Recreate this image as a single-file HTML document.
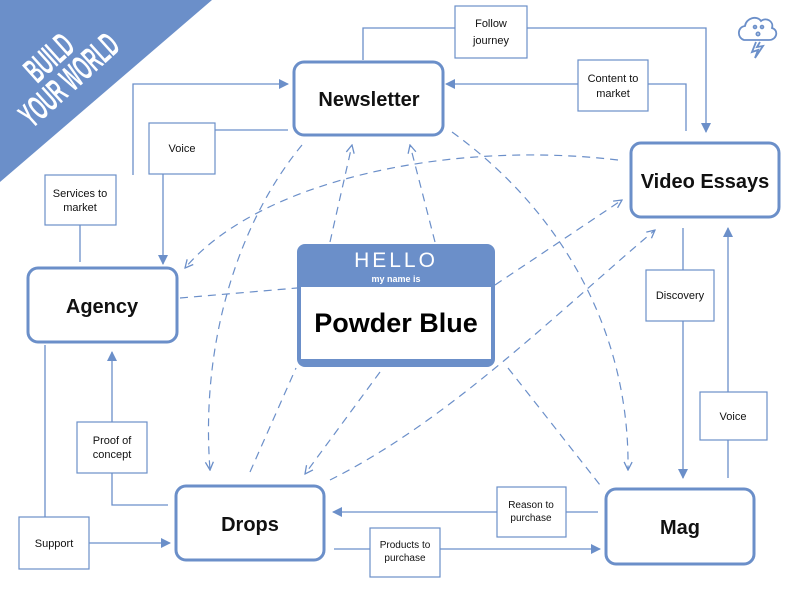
<!DOCTYPE html>
<html><head><meta charset="utf-8"><style>
html,body{margin:0;padding:0;background:#fff;width:792px;height:612px;overflow:hidden}
svg{display:block;font-family:"Liberation Sans",sans-serif}
</style></head><body>
<svg width="792" height="612" viewBox="0 0 792 612">
<defs>
<marker id="a" markerWidth="10" markerHeight="10" refX="9" refY="5" orient="auto" markerUnits="userSpaceOnUse"><path d="M0,0 L10,5 L0,10 z" fill="#6b8fc9"/></marker>
<marker id="o" markerWidth="10" markerHeight="10" refX="9" refY="5" orient="auto" markerUnits="userSpaceOnUse"><path d="M1,1 L9,5 L1,9" fill="none" stroke="#6b8fc9" stroke-width="1.3"/></marker>
</defs>
<polygon points="0,0 212,0 0,182" fill="#6b8fc9"/>
<g transform="translate(62,72) rotate(-42) scale(0.62,1.25)" fill="#fff" font-weight="bold" font-size="28" text-anchor="middle">
<text x="0" y="-6">BUILD</text><text x="0" y="18">YOUR WORLD</text></g>

<g stroke="#6b8fc9" stroke-width="1.3" fill="none">
<path d="M363,60 V28 H455 M527,28 H706 V132" marker-end="url(#a)"/>
<path d="M686,131 V84 H648 M578,84 H446" marker-end="url(#a)"/>
<path d="M133,175 V84 H288" marker-end="url(#a)"/>
<path d="M80,225 V262"/>
<path d="M288,130 H215 M163,174 V264" marker-end="url(#a)"/>
<path d="M45,345 V517 M89,543 H170" marker-end="url(#a)"/>
<path d="M168,505 H112 V473 M112,422 V352" marker-end="url(#a)"/>
<path d="M598,512 H566 M497,512 H333" marker-end="url(#a)"/>
<path d="M334,549 H370 M440,549 H600" marker-end="url(#a)"/>
<path d="M683,228 V270 M683,321 V478" marker-end="url(#a)"/>
<path d="M728,478 V440 M728,392 V228" marker-end="url(#a)"/>
</g>
<g stroke="#6b8fc9" stroke-width="1.2" fill="none" stroke-dasharray="8,6">
<path d="M302,145 C240,220 200,340 210,470" marker-end="url(#o)"/>
<path d="M452,132 C560,210 630,330 628,470" marker-end="url(#o)"/>
<path d="M618,160 C450,140 260,180 185,268" marker-end="url(#o)"/>
<path d="M180,298 L297,288"/>
<path d="M495,285 L622,200" marker-end="url(#o)"/>
<path d="M330,242 L352,145" marker-end="url(#o)"/>
<path d="M435,242 L410,145" marker-end="url(#o)"/>
<path d="M250,472 L296,368"/>
<path d="M380,372 L305,474" marker-end="url(#o)"/>
<path d="M330,480 C450,420 560,310 655,230" marker-end="url(#o)"/>
<path d="M508,368 L600,485"/>
</g>

<g fill="#fff" stroke="#6b8fc9" stroke-width="1.2">
<rect x="455" y="6" width="72" height="52"/>
<rect x="578" y="60" width="70" height="51"/>
<rect x="149" y="123" width="66" height="51"/>
<rect x="45" y="175" width="71" height="50"/>
<rect x="646" y="270" width="68" height="51"/>
<rect x="700" y="392" width="67" height="48"/>
<rect x="77" y="422" width="70" height="51"/>
<rect x="497" y="487" width="69" height="50"/>
<rect x="370" y="528" width="70" height="49"/>
<rect x="19" y="517" width="70" height="52"/>
</g>
<g font-size="11" text-anchor="middle" fill="#111">
<text x="491" y="27">Follow</text><text x="491" y="44">journey</text>
<text x="613" y="82">Content to</text><text x="613" y="97">market</text>
<text x="182" y="152">Voice</text>
<text x="80" y="197">Services to</text><text x="80" y="211">market</text>
<text x="680" y="299">Discovery</text>
<text x="733" y="420">Voice</text>
<text x="112" y="444">Proof of</text><text x="112" y="458">concept</text>
<text x="531" y="508" font-size="10">Reason to</text><text x="531" y="521" font-size="10">purchase</text>
<text x="405" y="548" font-size="10">Products to</text><text x="405" y="561" font-size="10">purchase</text>
<text x="54" y="547">Support</text>
</g>

<g fill="#fff" stroke="#6b8fc9" stroke-width="3">
<rect x="294" y="62" width="149" height="73" rx="10"/>
<rect x="631" y="143" width="148" height="74" rx="10"/>
<rect x="28" y="268" width="149" height="74" rx="10"/>
<rect x="176" y="486" width="148" height="74" rx="10"/>
<rect x="606" y="489" width="148" height="75" rx="10"/>
</g>
<g font-size="20" font-weight="bold" text-anchor="middle" fill="#111">
<text x="369" y="106">Newsletter</text>
<text x="705" y="188">Video Essays</text>
<text x="102" y="313">Agency</text>
<text x="250" y="531">Drops</text>
<text x="680" y="534">Mag</text>
</g>

<rect x="297" y="244" width="198" height="123" rx="8" fill="#6b8fc9"/>
<rect x="301" y="287" width="190" height="72" fill="#fff"/>
<text x="396" y="267" fill="#fff" font-size="21" text-anchor="middle" letter-spacing="3">HELLO</text>
<text x="396" y="282" fill="#fff" font-size="9" font-weight="bold" text-anchor="middle">my name is</text>
<text x="396" y="332" fill="#000" font-size="27" font-weight="bold" text-anchor="middle">Powder Blue</text>

<g stroke="#6b8fc9" stroke-width="1.8" fill="none">
<path d="M744,40 C737,38 737,27 745,26 C746,18 757,15 761,21 C766,17 774,21 772,28 C779,30 777,40 769,40 Z"/>
<path d="M756,42 L752,52 L758,50 L755,58 L763,46 L757,47 L760,42"/>
<circle cx="755" cy="27" r="1.4"/><circle cx="762" cy="27" r="1.4"/><circle cx="758" cy="34" r="1.6"/>
</g>
</svg>
</body></html>
